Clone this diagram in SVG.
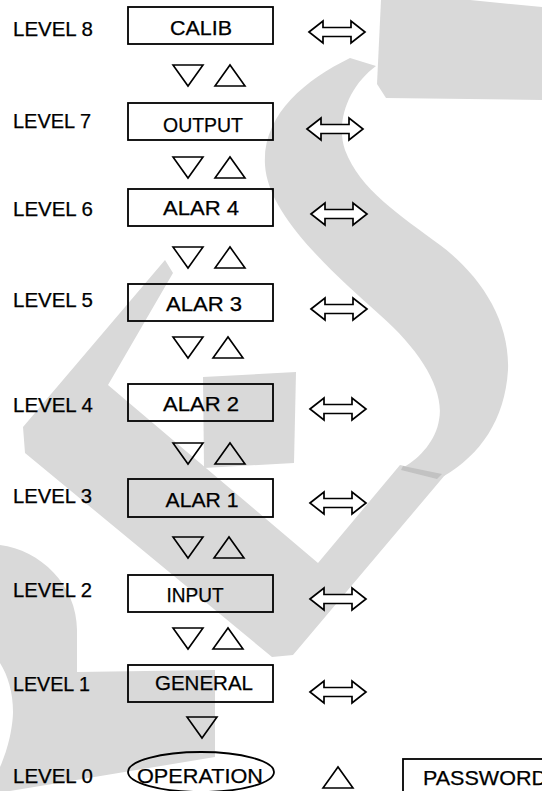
<svg xmlns="http://www.w3.org/2000/svg" xmlns:xlink="http://www.w3.org/1999/xlink" width="542" height="791" viewBox="0 0 542 791">
<style>
.wm{fill:#d9d9d9;stroke:none}
.wm2{fill:#c2c2c2;stroke:none}
.lbl{font-family:"Liberation Sans",Arial,sans-serif;font-size:20px;fill:#000;stroke:#000;stroke-width:0.25}
.bt{font-family:"Liberation Sans",Arial,sans-serif;font-size:20px;fill:#000;stroke:#000;stroke-width:0.25;text-anchor:middle}
.box{fill:none;stroke:#000;stroke-width:1.8}
.tri{fill:none;stroke:#000;stroke-width:1.6;stroke-linejoin:miter}
.arr{fill:#fff;stroke:#000;stroke-width:1.7;stroke-linejoin:miter}
</style>
<defs>
<path id="dbl" d="M0,0 L14,-11 L14,-4.5 L42,-4.5 L42,-11 L56,0 L42,11 L42,4.5 L14,4.5 L14,11 Z"/>
<polygon id="dn" points="0,0 30,0 15,21"/>
<polygon id="up" points="0,21 30,21 15,0"/>
</defs>
<rect width="542" height="791" fill="#fff"/>
<g id="watermark">
<polygon class="wm" points="381,0 470,0 542,7 542,100 386,98 377,84"/>
<path class="wm" d="M350,58 C305,80 262,115 265,165 C268,215 330,270 380,315 C420,350 445,390 439,420 C436,440 420,458 404,467 L444,476 C480,455 505,420 508,370 C510,320 480,275 440,245 C400,215 360,190 345,150 C335,120 350,85 376,66 Z"/>
<polygon class="wm" points="165,260 23,427 25,453 272,657 293,655 445,475 400,465 318,563 108,385 173,273"/>
<polygon class="wm" points="203,377 296,372 294,463 204,468"/>
<path class="wm" d="M0,545 C40,550 77,585 77,630 L77,672 L215,670 L215,757 L10,791 L0,791 L0,767 C10,745 13,722 13,712 C13,692 8,676 0,663 Z"/>
<polygon class="wm2" points="403,466 442,474 437,479 401,470"/>
</g>
<g id="labels">
<text class="lbl" x="13" y="36" textLength="80" lengthAdjust="spacingAndGlyphs">LEVEL 8</text>
<text class="lbl" x="13" y="128" textLength="78" lengthAdjust="spacingAndGlyphs">LEVEL 7</text>
<text class="lbl" x="13" y="216" textLength="80" lengthAdjust="spacingAndGlyphs">LEVEL 6</text>
<text class="lbl" x="13" y="307" textLength="80" lengthAdjust="spacingAndGlyphs">LEVEL 5</text>
<text class="lbl" x="13" y="412" textLength="80" lengthAdjust="spacingAndGlyphs">LEVEL 4</text>
<text class="lbl" x="13" y="503" textLength="79" lengthAdjust="spacingAndGlyphs">LEVEL 3</text>
<text class="lbl" x="13" y="597" textLength="79" lengthAdjust="spacingAndGlyphs">LEVEL 2</text>
<text class="lbl" x="13" y="691" textLength="77" lengthAdjust="spacingAndGlyphs">LEVEL 1</text>
<text class="lbl" x="13" y="783" textLength="80" lengthAdjust="spacingAndGlyphs">LEVEL 0</text>
</g>
<g id="calib"><rect class="box" x="128" y="7" width="145" height="37"/><text class="bt" x="201" y="35" textLength="62" lengthAdjust="spacingAndGlyphs">CALIB</text></g>
<g id="output"><rect class="box" x="128" y="103" width="145" height="37"/><text class="bt" x="203" y="132" textLength="80" lengthAdjust="spacingAndGlyphs">OUTPUT</text></g>
<g id="alar4"><rect class="box" x="128" y="189" width="145" height="37"/><text class="bt" x="201" y="215" textLength="76" lengthAdjust="spacingAndGlyphs">ALAR 4</text></g>
<g id="alar3"><rect class="box" x="128" y="284" width="145" height="37"/><text class="bt" x="204" y="311" textLength="76" lengthAdjust="spacingAndGlyphs">ALAR 3</text></g>
<g id="alar2"><rect class="box" x="128" y="384" width="145" height="37"/><text class="bt" x="201" y="411" textLength="76" lengthAdjust="spacingAndGlyphs">ALAR 2</text></g>
<g id="alar1"><rect class="box" x="128" y="479" width="145" height="38"/><text class="bt" x="202" y="507" textLength="73" lengthAdjust="spacingAndGlyphs">ALAR 1</text></g>
<g id="input"><rect class="box" x="128" y="575" width="145" height="37"/><text class="bt" x="195" y="602" textLength="57" lengthAdjust="spacingAndGlyphs">INPUT</text></g>
<g id="general"><rect class="box" x="128" y="665" width="145" height="37"/><text class="bt" x="204" y="690" textLength="98" lengthAdjust="spacingAndGlyphs">GENERAL</text></g>
<g id="operation"><ellipse class="box" cx="201" cy="772" rx="73" ry="20"/><text class="bt" x="200" y="783" textLength="126" lengthAdjust="spacingAndGlyphs">OPERATION</text></g>
<g id="password"><rect class="box" x="403" y="759" width="170" height="50"/><text class="lbl" x="423" y="785" textLength="124" lengthAdjust="spacingAndGlyphs">PASSWORD</text></g>
<g id="connectors">
<use href="#dn" class="tri" x="173" y="65"/><use href="#up" class="tri" x="215" y="65"/>
<use href="#dn" class="tri" x="173" y="157"/><use href="#up" class="tri" x="215" y="157"/>
<use href="#dn" class="tri" x="173" y="247"/><use href="#up" class="tri" x="215" y="247"/>
<use href="#dn" class="tri" x="173" y="337"/><use href="#up" class="tri" x="213" y="337"/>
<use href="#dn" class="tri" x="173" y="443"/><use href="#up" class="tri" x="215" y="443"/>
<use href="#dn" class="tri" x="173" y="537"/><use href="#up" class="tri" x="214" y="537"/>
<use href="#dn" class="tri" x="173" y="628"/><use href="#up" class="tri" x="213" y="628"/>
<use href="#dn" class="tri" x="187" y="717"/>
<use href="#up" class="tri" x="323" y="767"/>
<use href="#dbl" class="arr" x="309" y="32"/>
<use href="#dbl" class="arr" x="307" y="129"/>
<use href="#dbl" class="arr" x="311" y="214"/>
<use href="#dbl" class="arr" x="311" y="309"/>
<use href="#dbl" class="arr" x="310" y="409"/>
<use href="#dbl" class="arr" x="310" y="503"/>
<use href="#dbl" class="arr" x="310" y="599"/>
<use href="#dbl" class="arr" x="310" y="692"/>
</g>
</svg>
